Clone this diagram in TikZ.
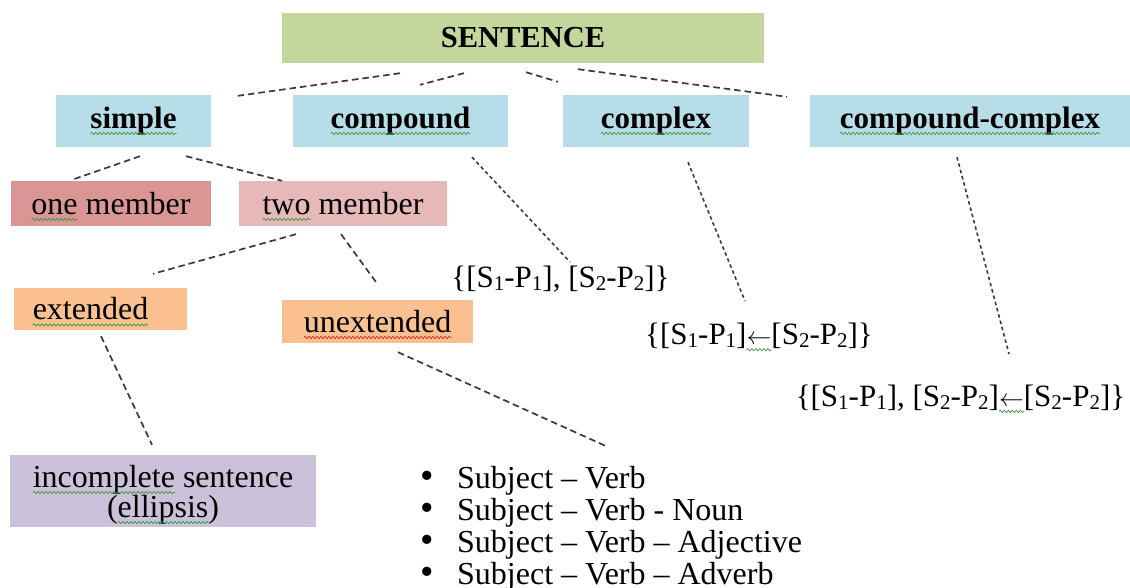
\documentclass[tikz,border=0pt]{standalone}
\usepackage{fontspec}
\usepackage{graphicx}
\setmainfont{Liberation Serif}
\usetikzlibrary{calc,decorations.pathmorphing}

\definecolor{sentgreen}{HTML}{C3D69B}
\definecolor{typeblue}{HTML}{B7DDE8}
\definecolor{onered}{HTML}{D99694}
\definecolor{tworose}{HTML}{E6B9B8}
\definecolor{extorange}{HTML}{FAC090}
\definecolor{inclilac}{HTML}{CCC1DA}
\definecolor{linegray}{HTML}{3A3A3A}
\definecolor{sqgreen}{HTML}{3A9A3A}
\definecolor{sqred}{HTML}{E02020}

% type sizes
\newcommand\fhead{\normalfont\fontsize{31}{31}\selectfont\bfseries}
\newcommand\freg{\normalfont\fontsize{32}{32}\selectfont}
\newcommand\fform{\normalfont\fontsize{31}{31}\selectfont}
% clause indices
\newcommand\sbs[1]{\raisebox{-0.1em}{\fontsize{21}{21}\selectfont #1}}
\newcommand\larr{\mbox{$\leftarrow$}}
\newcommand\blt{\makebox[37pt][l]{\scalebox{1.2}{\textbullet}}}

% label widths, measured once outside the picture
\newcommand\mkwidth[3]{\setbox0\hbox{#2#3}\expandafter\xdef\csname w#1\endcsname{\the\wd0}}
\AtBeginDocument{%
  \expandafter\xdef\csname wnone\endcsname{0pt}%
  \mkwidth{simple}{\fhead}{simple}%
  \mkwidth{compound}{\fhead}{compound}%
  \mkwidth{complex}{\fhead}{complex}%
  \mkwidth{cc}{\fhead}{compound-complex}%
  \mkwidth{one}{\freg}{one}%
  \mkwidth{onefull}{\freg}{one member}%
  \mkwidth{two}{\freg}{two}%
  \mkwidth{twofull}{\freg}{two member}%
  \mkwidth{ext}{\freg}{extended}%
  \mkwidth{shift}{\freg}{\hspace*{-20pt}}%
  \mkwidth{extfull}{\freg}{\hspace*{-20pt}extended}%
  \mkwidth{unext}{\freg}{unextended}%
  \mkwidth{inc}{\freg}{incomplete}%
  \mkwidth{incfull}{\freg}{incomplete sentence}%
  \mkwidth{paren}{\freg}{(}%
  \mkwidth{ell}{\freg}{ellipsis}%
  \mkwidth{ellfull}{\freg}{(ellipsis)}%
  \mkwidth{arr}{\fform}{\larr}%
  \mkwidth{ftwopre}{\fform}{\{[S\sbs{1}-P\sbs{1}]}%
  \mkwidth{ftwofull}{\fform}{\{[S\sbs{1}-P\sbs{1}]\larr[S\sbs{2}-P\sbs{2}]\}}%
  \mkwidth{fthreepre}{\fform}{\{[S\sbs{1}-P\sbs{1}], [S\sbs{2}-P\sbs{2}]}%
  \mkwidth{fthreefull}{\fform}{\{[S\sbs{1}-P\sbs{1}], [S\sbs{2}-P\sbs{2}]\larr[S\sbs{2}-P\sbs{2}]\}}%
}

% wavy proofing underline under one word of a centred line
% #1 drop below anchor, #2 anchor, #3 colour, #4 line width name, #5 prefix width name, #6 word width name
\newcommand\squig[6][-5pt]{%
  \draw[squiggle,#3]
    ([xshift=-0.5*\csname w#4\endcsname+\csname w#5\endcsname, yshift=#1]#2)
    -- ++(\csname w#6\endcsname,0);}

\begin{document}
\begin{tikzpicture}[x=1pt,y=-1pt,
  box/.style={inner sep=0pt, text=black},
  headbox/.style={box, fill=typeblue, minimum height=52pt, font=\fhead},
  subbox/.style={box, font=\freg},
  formula/.style={inner sep=0pt, font=\fform},
  link/.style={draw=linegray, line width=1.7pt, dash pattern=on 6.5pt off 4pt},
  finelink/.style={draw=linegray, line width=1.6pt, dash pattern=on 3.5pt off 3pt},
  squiggle/.style={line width=0.7pt, decorate,
                   decoration={snake, amplitude=1.2pt, segment length=4pt}}]

\useasboundingbox[fill=white] (0,0) rectangle (1130,588);

% top level
\node[box, fill=sentgreen, minimum width=482pt, minimum height=50pt,
      font=\normalfont\fontsize{30.5}{30.5}\selectfont\bfseries] (sent) at (523,38) {SENTENCE};

% sentence types
\node[headbox, minimum width=155pt] (simple)   at (133.5,121) {simple};
\node[headbox, minimum width=215pt] (compound) at (400.5,121) {compound};
\node[headbox, minimum width=186pt] (complex)  at (656,121)   {complex};
\node[headbox, minimum width=320pt] (cc)       at (970,121)   {compound-complex};

% simple sentence branches
\node[subbox, fill=onered,  minimum width=200pt, minimum height=45pt] (one) at (111,203.5) {one member};
\node[subbox, fill=tworose, minimum width=208pt, minimum height=45pt] (two) at (343,203.5) {two member};
\node[subbox, fill=extorange, minimum width=173pt, minimum height=42pt] (ext) at (100.5,309) {\hspace*{-20pt}extended};
\node[subbox, fill=extorange, minimum width=191pt, minimum height=43pt] (unext) at (377.5,321.5) {unextended};
\node[box, fill=inclilac, minimum width=306pt, minimum height=72pt] (inc) at (163,491) {};
\node[box, align=center, font=\normalfont\fontsize{32}{30}\selectfont] (inclabel) at (163,495)
  {incomplete sentence\\(ellipsis)};

% clause formulas
\node[formula] (f1) at (560.5,279) {\{[S\sbs{1}-P\sbs{1}], [S\sbs{2}-P\sbs{2}]\}};
\node[formula] (f2) at (759,336)   {\{[S\sbs{1}-P\sbs{1}]\larr[S\sbs{2}-P\sbs{2}]\}};
\node[formula] (f3) at (960.5,398) {\{[S\sbs{1}-P\sbs{1}], [S\sbs{2}-P\sbs{2}]\larr[S\sbs{2}-P\sbs{2}]\}};

% sentence patterns
\node[anchor=north west, inner sep=0pt, align=left, font=\freg] (list) at (420,466)
  {\blt Subject – Verb\\
   \blt Subject – Verb - Noun\\
   \blt Subject – Verb – Adjective\\
   \blt Subject – Verb – Adverb};

% proofing underlines
\squig{simple.base}{sqgreen}{simple}{none}{simple}
\squig{compound.base}{sqgreen}{compound}{none}{compound}
\squig{complex.base}{sqgreen}{complex}{none}{complex}
\squig{cc.base}{sqgreen}{cc}{none}{cc}
\squig{one.base}{sqgreen}{onefull}{none}{one}
\squig{two.base}{sqgreen}{twofull}{none}{two}
\squig{ext.base}{sqgreen}{extfull}{shift}{ext}
\squig{unext.base}{sqred}{unext}{none}{unext}
\squig[2.5pt]{inclabel.center}{sqgreen}{incfull}{none}{inc}
\squig[-27.5pt]{inclabel.center}{sqgreen}{ellfull}{paren}{ell}
\squig{f2.base}{sqgreen}{ftwofull}{ftwopre}{arr}
\squig{f3.base}{sqgreen}{fthreefull}{fthreepre}{arr}

% connectors
\draw[link] ([shift={(-123,10)}]sent.south) -- ([shift={(104.5,1)}]simple.north);
\draw[link] ([shift={(-59,10)}]sent.south)  -- ([shift={(19.5,-10)}]compound.north);
\draw[link] ([shift={(3,9)}]sent.south)     -- ([shift={(-98,-13)}]complex.north);
\draw[link] ([shift={(55,6)}]sent.south)    -- ([shift={(-183,2)}]cc.north);

\draw[link] ([shift={(6.5,9)}]simple.south)  -- ([shift={(-39,-1)}]one.north);
\draw[link] ([shift={(52.5,9)}]simple.south) -- ([shift={(-61,0)}]two.north);
\draw[link] ([shift={(-47,8)}]two.south) -- ([shift={(52.5,-14)}]ext.north);
\draw[link] ([shift={(-2,8)}]two.south)  -- ([shift={(0.5,-15)}]unext.north);

\draw[finelink] ([shift={(71.5,10)}]compound.south) -- ([shift={(9.5,-17)}]f1.center);
\draw[finelink] ([shift={(32,15)}]complex.south)    -- ([shift={(-14,-35)}]f2.center);
\draw[finelink] ([shift={(-13,10)}]cc.south)        -- ([shift={(48.5,-44)}]f3.center);

\draw[link] ([shift={(0.5,6)}]ext.south)    -- ([shift={(-11,-10)}]inc.north);
\draw[link] ([shift={(20.5,9)}]unext.south) -- ([shift={(188,-19)}]list.north west);
\end{tikzpicture}
\end{document}
